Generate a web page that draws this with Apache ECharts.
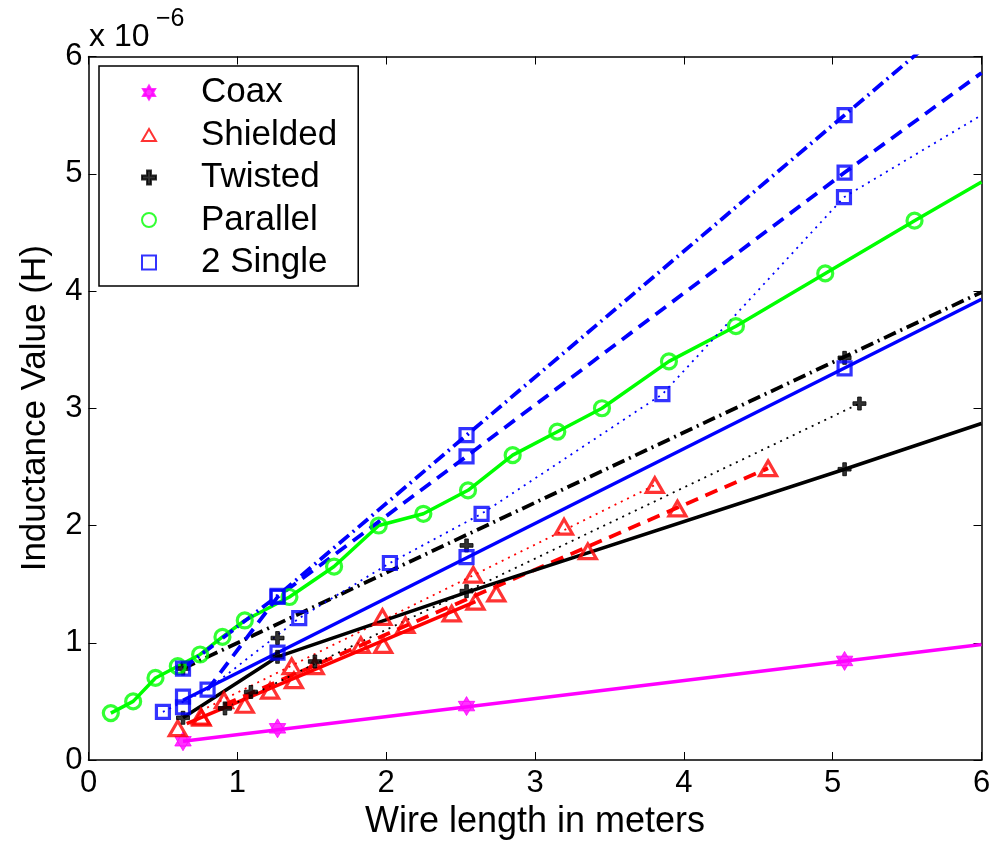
<!DOCTYPE html>
<html><head><meta charset="utf-8">
<script src="https://cdn.jsdelivr.net/npm/echarts@6/dist/echarts.min.js"></script>
<style>html,body{margin:0;padding:0;background:#fff}#c{width:997px;height:856px}</style>
</head><body><div id="c"></div>
<script>
// ---- data (inductance in units of 1e-6 H, length in m) ----
var xTicks = [0, 1, 2, 3, 4, 5, 6];
var yTicks = [0, 1, 2, 3, 4, 5, 6];
var legendNames = ['Coax', 'Shielded', 'Twisted', 'Parallel', '2 Single'];

// Coax
var coaxPts = [[0.635, 0.16], [1.27, 0.27], [2.54, 0.46], [5.08, 0.845]];
var coaxLine = [[0.635, 0.16], [6, 0.985]];

// Shielded
var shSolidPts = [[0.60, 0.27], [0.76, 0.36], [1.05, 0.47], [1.22, 0.59], [1.38, 0.68], [1.83, 0.98], [1.98, 0.98], [2.44, 1.25], [2.60, 1.35]];
var shSolidLine = [[0.66, 0.31], [2.60, 1.35]];
var shDashPts = [[0.91, 0.51], [1.52, 0.80], [2.13, 1.15], [2.74, 1.42], [3.355, 1.78], [3.957, 2.145], [4.566, 2.488]];
var shDashLine = [[0.91, 0.47], [4.566, 2.488]];
var shDotPts = [[0.755, 0.37], [1.365, 0.80], [1.975, 1.22], [2.585, 1.58], [3.195, 1.99], [3.805, 2.345]];
var shDotLine = [[0.755, 0.42], [3.805, 2.345]];

// Twisted
var twSolidPts = [[0.635, 0.36], [1.27, 0.88], [2.54, 1.44], [5.08, 2.48]];
var twSolidLine = [[0.635, 0.36], [1.27, 0.88], [2.54, 1.43], [5.08, 2.48], [6, 2.87]];
var twDashDotPts = [[0.635, 0.78], [1.27, 1.04], [2.54, 1.83], [5.08, 3.43]];
var twDashDotLine = [[0.635, 0.78], [6, 3.99]];
var twDotPts = [[0.917, 0.44], [1.091, 0.58], [1.521, 0.84], [5.18, 3.04]];
var twDotLine = [[0.917, 0.44], [1.521, 0.82], [5.18, 3.04]];

// Parallel
var parPts = [[0.15, 0.40], [0.30, 0.50], [0.45, 0.70], [0.60, 0.80], [0.75, 0.90], [0.90, 1.05], [1.05, 1.19], [1.35, 1.39], [1.65, 1.65], [1.95, 2.00], [2.25, 2.10], [2.55, 2.30], [2.85, 2.60], [3.15, 2.80], [3.45, 3.00], [3.90, 3.40], [4.35, 3.70], [4.95, 4.15], [5.55, 4.60]];
var parLine = parPts.concat([[6, 4.93]]);

// 2 Single
var sgSolidPts = [[0.635, 0.54], [1.27, 0.915], [2.54, 1.73], [5.08, 3.34]];
var sgSolidLine = [[0.635, 0.51], [6, 3.93]];
var sgDashPts = [[0.80, 0.60], [1.27, 1.39], [2.54, 2.59], [5.08, 5.01]];
var sgDashLine = [[0.80, 0.60], [1.27, 1.39], [2.54, 2.59], [5.08, 5.01], [6, 5.86]];
var sgDashDotPts = [[0.635, 0.78], [1.27, 1.40], [2.54, 2.77], [5.08, 5.50]];
var sgDashDotLine = [[0.635, 0.78], [1.27, 1.40], [2.54, 2.77], [5.08, 5.50], [6, 6.49]];
var sgDotPts = [[0.50, 0.41], [0.635, 0.45], [1.416, 1.21], [2.025, 1.68], [2.641, 2.10], [3.856, 3.12], [5.076, 4.80]];
var sgDotLine = [[0.50, 0.41], [0.80, 0.60], [1.416, 1.21], [2.025, 1.68], [2.641, 2.10], [3.856, 3.12], [5.076, 4.80], [6, 5.50]];

// ---- styling ----
var MAG = '#ff00ff', RED = '#ff0000', BLK = '#000000', GRN = '#00ff00', BLU = '#0000ff';
var HEX = 'path://M0,-10L8.66,5L-8.66,5Z M0,10L-8.66,-5L8.66,-5Z';
var PLUS = 'path://M-1.4,-5H1.4V-1.4H5V1.4H1.4V5H-1.4V1.4H-5V-1.4H-1.4Z';
var TRI = 'path://M0,-10L10,7.32L-10,7.32Z';
var SQR = 'path://M-5,-5H5V5H-5Z';
var DASH = [13, 8], DOT = [2, 5], DASHDOT = [13, 5, 2, 5];

function line(data, color, type, width) {
  return { type: 'line', data: data, symbol: 'none', silent: true, z: 2,
    lineStyle: { color: color, width: width || 3.5, type: type || 'solid' } };
}
function marks(name, data, symbol, size, color, filled) {
  return { type: 'scatter', name: name, data: data, symbol: symbol, symbolSize: size, z: 3,
    symbolKeepAspect: true,
    itemStyle: filled ? { color: color, borderColor: color, borderWidth: 1 }
                      : { color: 'rgba(255,255,255,0)', borderColor: color, borderWidth: 3.2 } };
}

var series = [
  line(coaxLine, MAG, 'solid', 3.5),
  line(shSolidLine, RED, 'solid', 3.5),
  line(shDashLine, RED, DASH, 3.8),
  line(shDotLine, RED, DOT, 1.8),
  line(twSolidLine, BLK, 'solid', 3.5),
  line(twDashDotLine, BLK, DASHDOT, 3.8),
  line(twDotLine, BLK, DOT, 1.8),
  line(parLine, GRN, 'solid', 3.5),
  line(sgSolidLine, BLU, 'solid', 3.5),
  line(sgDashLine, BLU, DASH, 3.8),
  line(sgDashDotLine, BLU, DASHDOT, 3.8),
  line(sgDotLine, BLU, DOT, 1.8),
  marks('Coax', coaxPts, HEX, 19, MAG, true),
  marks('Shielded', shSolidPts, TRI, 17, RED),
  marks('Shielded', shDashPts, TRI, 17, RED),
  marks('Shielded', shDotPts, TRI, 17, RED),
  marks('Twisted', twSolidPts, PLUS, 13, BLK, true),
  marks('Twisted', twDashDotPts, PLUS, 13, BLK, true),
  marks('Twisted', twDotPts, PLUS, 13, BLK, true),
  marks('Parallel', parPts, 'circle', 15, GRN),
  marks('2 Single', sgSolidPts, SQR, 13, BLU),
  marks('2 Single', sgDashPts, SQR, 13, BLU),
  marks('2 Single', sgDashDotPts, SQR, 13, BLU),
  marks('2 Single', sgDotPts, SQR, 13, BLU)
];

var FONT = 'Liberation Sans, Arial, Helvetica, sans-serif';
var axisCommon = {
  type: 'value', min: 0, max: 6, interval: 1,
  axisLine: { show: true, onZero: false, lineStyle: { color: BLK, width: 1.5 } },
  axisTick: { show: true, inside: true, length: 8, lineStyle: { color: BLK, width: 1 } },
  splitLine: { show: false }
};
function ax(extra) { return Object.assign({}, axisCommon, extra); }

var chart = echarts.init(document.getElementById('c'), null, { renderer: 'canvas' });
chart.setOption({
  animation: false,
  backgroundColor: '#fff',
  textStyle: { fontFamily: FONT },
  grid: { left: 88.5, right: 15.5, top: 56.5, bottom: 96, containLabel: false },
  xAxis: [
    ax({ position: 'bottom', name: 'Wire length in meters', nameLocation: 'middle', nameGap: 25,
      nameTextStyle: { fontSize: 36, color: BLK, fontFamily: FONT, verticalAlign: 'top', lineHeight: 36 },
      axisLabel: { fontSize: 31, color: BLK, margin: 8, fontFamily: FONT,
        formatter: function (v) { return xTicks.indexOf(v) >= 0 ? String(v) : ''; } } }),
    ax({ position: 'top', axisLabel: { show: false } })
  ],
  yAxis: [
    ax({ position: 'left', name: 'Inductance Value (H)', nameLocation: 'middle', nameGap: 36,
      nameTextStyle: { fontSize: 35, color: BLK, fontFamily: FONT },
      axisLabel: { fontSize: 31, color: BLK, margin: 6, fontFamily: FONT,
        formatter: function (v) { return yTicks.indexOf(v) >= 0 ? String(v) : ''; } } }),
    ax({ position: 'right', axisLabel: { show: false } })
  ],
  legend: {
    data: legendNames, orient: 'vertical', left: 99, top: 66,
    padding: [9, 21, 6, 42], itemWidth: 14, itemHeight: 14, itemGap: 7.5,
    backgroundColor: '#fff', borderColor: BLK, borderWidth: 1.5,
    textStyle: { fontSize: 35, lineHeight: 34, color: BLK, fontFamily: FONT, padding: [0, 0, 0, 40] },
    selectedMode: false
  },
  graphic: [
    { type: 'text', left: 89, top: 21, style: { text: 'x 10', fill: BLK, font: '32px ' + FONT } },
    { type: 'text', left: 156, top: 7, style: { text: '\u22126', fill: BLK, font: '25px ' + FONT } }
  ],
  series: series
});
</script></body></html>
